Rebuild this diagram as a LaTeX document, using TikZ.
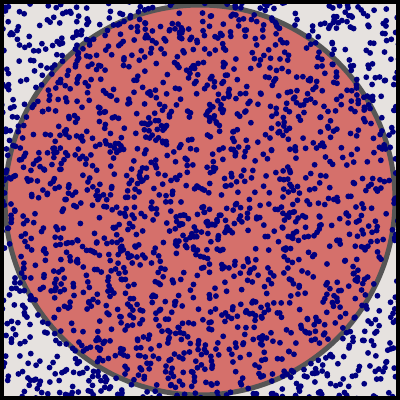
\documentclass[tikz,border=0pt]{standalone}
\usepackage{tikz}
\definecolor{paper}{HTML}{E6E2DF}
\definecolor{disc}{HTML}{D5706B}
\definecolor{rim}{HTML}{555555}
\definecolor{hit}{HTML}{00007F}

\begin{document}
\begin{tikzpicture}[dot/.style={fill=hit,draw=none},
  frame/.style={draw=black,line width=0.75mm}]
  \useasboundingbox (0,0) rectangle (4,4);
  \fill[paper] (0,0) rectangle (4,4);
  \draw[rim,fill=disc,line width=0.5mm] (2,2) circle (1.95);
  % random samples
  \pgfmathsetseed{7}
  \begin{scope}
    \clip (0,0) rectangle (4,4);
    \foreach \i in {1,...,2000}{
      \pgfmathsetmacro{\px}{4*rnd}
      \pgfmathsetmacro{\py}{4*rnd}
      \fill[dot] (\px,\py) circle (0.029);
    }
  \end{scope}
  \draw[frame] (0,0) rectangle (4,4);
\end{tikzpicture}
\end{document}
